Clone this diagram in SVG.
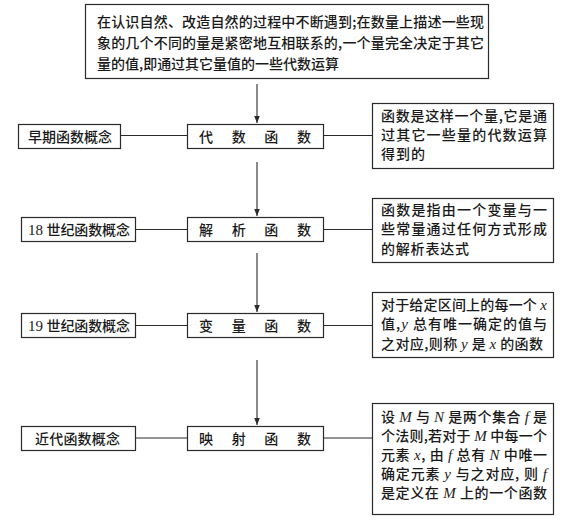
<svg xmlns="http://www.w3.org/2000/svg" width="565" height="527" viewBox="0 0 565 527">
<style>
.box{fill:#fff;stroke:#2a2a2a;stroke-width:1.2}
.ln{stroke:#2a2a2a;stroke-width:1.1;fill:none}
text{font-family:"Noto Sans CJK SC","Noto Sans CJK JP",sans-serif;font-size:14px;fill:#1a1a1a;font-weight:500}
.c{text-anchor:middle}
.i{font-family:"Liberation Serif",serif;font-style:italic;font-size:15px}
.n{font-family:"Liberation Serif",serif;font-size:15px}
</style>
<defs>
<marker id="ah" markerWidth="8" markerHeight="8" refX="7" refY="4" orient="auto" markerUnits="userSpaceOnUse">
<path d="M0,1.2 L7,4 L0,6.8 Z" fill="#2a2a2a"/>
</marker>
</defs>
<rect width="565" height="527" fill="#fff"/>
<g id="connectors">
<line class="ln" x1="257" y1="84" x2="257" y2="123" marker-end="url(#ah)"/>
<line class="ln" x1="257" y1="162" x2="257" y2="216" marker-end="url(#ah)"/>
<line class="ln" x1="257" y1="253" x2="257" y2="312" marker-end="url(#ah)"/>
<line class="ln" x1="257" y1="360" x2="257" y2="425" marker-end="url(#ah)"/>
<line class="ln" x1="121" y1="135.5" x2="187" y2="135.5"/>
<line class="ln" x1="324" y1="135.5" x2="372" y2="135.5"/>
<line class="ln" x1="136" y1="229.5" x2="187" y2="229.5"/>
<line class="ln" x1="324" y1="229.5" x2="372" y2="229.5"/>
<line class="ln" x1="136" y1="325.5" x2="187" y2="325.5"/>
<line class="ln" x1="324" y1="325.5" x2="372" y2="325.5"/>
<line class="ln" x1="136" y1="438" x2="187" y2="438"/>
<line class="ln" x1="324" y1="438" x2="372" y2="438"/>
</g>
<g id="top">
<rect class="box" x="85.5" y="4.5" width="403" height="74"/>
<text x="97" y="27" textLength="387" lengthAdjust="spacing">在认识自然、改造自然的过程中不断遇到;在数量上描述一些现</text>
<text x="97" y="48" textLength="387" lengthAdjust="spacing">象的几个不同的量是紧密地互相联系的,一个量完全决定于其它</text>
<text x="97" y="69" textLength="242" lengthAdjust="spacing">量的值,即通过其它量值的一些代数运算</text>
</g>
<g id="early">
<rect class="box" x="18.5" y="124.5" width="102" height="24"/>
<text x="28" y="141.5" textLength="84" lengthAdjust="spacing">早期函数概念</text>
</g>
<g id="algebraic">
<rect class="box" x="187.5" y="124.5" width="136" height="24"/>
<text x="199" y="141.5" textLength="112" lengthAdjust="spacing">代数函数</text>
</g>
<g id="desc1">
<rect class="box" x="372.5" y="103.5" width="181" height="65"/>
<text x="381" y="121" textLength="166" lengthAdjust="spacing">函数是这样一个量,它是通</text>
<text x="381" y="140" textLength="166" lengthAdjust="spacing">过其它一些量的代数运算</text>
<text x="381" y="159" textLength="44" lengthAdjust="spacing">得到的</text>
</g>
<g id="c18">
<rect class="box" x="21.5" y="217.5" width="114" height="24"/>
<text x="28" y="234.5" textLength="102" lengthAdjust="spacing"><tspan class="n">18 </tspan>世纪函数概念</text>
</g>
<g id="analytic">
<rect class="box" x="187.5" y="217.5" width="136" height="24"/>
<text x="199" y="234.5" textLength="112" lengthAdjust="spacing">解析函数</text>
</g>
<g id="desc2">
<rect class="box" x="372.5" y="198.5" width="181" height="64"/>
<text x="381" y="215" textLength="166" lengthAdjust="spacing">函数是指由一个变量与一</text>
<text x="381" y="234" textLength="166" lengthAdjust="spacing">些常量通过任何方式形成</text>
<text x="381" y="254" textLength="88" lengthAdjust="spacing">的解析表达式</text>
</g>
<g id="c19">
<rect class="box" x="21.5" y="313.5" width="114" height="24"/>
<text x="28" y="330.5" textLength="102" lengthAdjust="spacing"><tspan class="n">19 </tspan>世纪函数概念</text>
</g>
<g id="variable">
<rect class="box" x="187.5" y="313.5" width="136" height="24"/>
<text x="199" y="330.5" textLength="112" lengthAdjust="spacing">变量函数</text>
</g>
<g id="desc3">
<rect class="box" x="372.5" y="292.5" width="181" height="65"/>
<text x="381" y="310" textLength="166" lengthAdjust="spacing">对于给定区间上的每一个 <tspan class="i">x</tspan></text>
<text x="381" y="329" textLength="166" lengthAdjust="spacing">值,<tspan class="i">y</tspan> 总有唯一确定的值与</text>
<text x="381" y="349" textLength="162" lengthAdjust="spacing">之对应,则称 <tspan class="i">y</tspan> 是 <tspan class="i">x</tspan> 的函数</text>
</g>
<g id="modern">
<rect class="box" x="21.5" y="426.5" width="114" height="24"/>
<text x="35" y="443.5" textLength="85" lengthAdjust="spacing">近代函数概念</text>
</g>
<g id="mapping">
<rect class="box" x="187.5" y="426.5" width="136" height="24"/>
<text x="199" y="443.5" textLength="112" lengthAdjust="spacing">映射函数</text>
</g>
<g id="desc4">
<rect class="box" x="372.5" y="403.5" width="181" height="111"/>
<text x="381" y="422" textLength="166" lengthAdjust="spacing">设 <tspan class="i">M</tspan> 与 <tspan class="i">N</tspan> 是两个集合 <tspan class="i">f</tspan> 是</text>
<text x="381" y="441" textLength="166" lengthAdjust="spacing">个法则,若对于 <tspan class="i">M</tspan> 中每一个</text>
<text x="381" y="460" textLength="166" lengthAdjust="spacing">元素 <tspan class="i">x</tspan>, 由 <tspan class="i">f</tspan> 总有 <tspan class="i">N</tspan> 中唯一</text>
<text x="381" y="479" textLength="166" lengthAdjust="spacing">确定元素 <tspan class="i">y</tspan> 与之对应, 则 <tspan class="i">f</tspan></text>
<text x="381" y="498" textLength="166" lengthAdjust="spacing">是定义在 <tspan class="i">M</tspan> 上的一个函数</text>
</g>
</svg>
